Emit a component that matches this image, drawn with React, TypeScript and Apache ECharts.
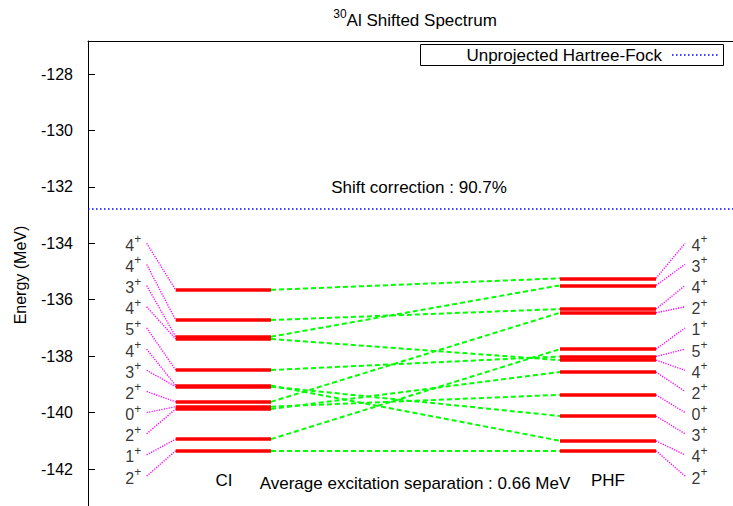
import React, { useEffect, useRef } from 'react';
import * as echarts from 'echarts';

// ---- data ----
const ciSpins = ['4', '4', '3', '4', '5', '4', '3', '2', '0', '2', '1', '2'];
const ciEnergies = [-135.65, -136.72, -137.31, -137.39, -138.49, -139.04, -139.08, -139.62, -139.79, -139.87, -140.94, -141.35];
const phfSpins = ['4', '3', '4', '2', '1', '5', '4', '2', '0', '3', '4', '2'];
const phfEnergies = [-135.24, -135.49, -136.33, -136.46, -137.75, -138.01, -138.14, -138.56, -139.37, -140.12, -141.0, -141.35];
const ciToPhf = [0, 2, 1, 6, 5, 10, 9, 3, 8, 7, 4, 11];
const hartreeFockEnergy = -132.79;
const shiftCorrection = '90.7%';
const averageSeparation = '0.66 MeV';
const yTicks = [-142, -140, -138, -136, -134, -132, -130, -128];

// ---- layout (axis units) ----
const X_MIN = 0;
const X_MAX = 10;
const Y_MIN = -143.31;
const Y_MAX = -126.83;
const LBL_L = 0.91;
const CI_X0 = 1.36;
const CI_X1 = 2.837;
const PHF_X0 = 7.318;
const PHF_X1 = 8.806;
const LBL_R = 9.256;
const SLOT_TOP = -134;
const SLOT_STEP = 0.75;

const FONT = '"Liberation Sans", Arial, Helvetica, sans-serif';
const FS = 16;
const FT = 17;

const slots = ciSpins.map((_, i) => SLOT_TOP - SLOT_STEP * i);

const rich = {
  n: { fontSize: FS, fontFamily: FONT, color: '#000', lineHeight: 20, verticalAlign: 'bottom' as const },
  s: { fontSize: 12, fontFamily: FONT, color: '#000', lineHeight: 12, verticalAlign: 'top' as const },
};
const titleRich = {
  n: { fontSize: FT, fontFamily: FONT, color: '#000', lineHeight: 21, verticalAlign: 'bottom' as const },
  s: { fontSize: 12, fontFamily: FONT, color: '#000', lineHeight: 12, verticalAlign: 'top' as const },
};

export default function App() {
  const ref = useRef<HTMLDivElement>(null);
  useEffect(() => {
    if (!ref.current) return;
    const chart = echarts.init(ref.current, undefined, { renderer: 'svg' });
    const levelLine = (x0: number, x1: number, energies: number[]) => ({
      type: 'lines',
      coordinateSystem: 'cartesian2d',
      silent: true,
      z: 4,
      lineStyle: { color: '#ff0000', width: 3.5, opacity: 1, cap: 'butt' },
      data: energies.map((e) => ({ coords: [[x0, e], [x1, e]] })),
    });
    const txt = (text: string, x: number, y: number, align = 'center') => ({
      type: 'text',
      x,
      y,
      z: 11,
      style: { text, fontSize: FT, fontFamily: FONT, fill: '#000', align, verticalAlign: 'middle' },
    });
    const option: any = {
      animation: false,
      textStyle: { fontFamily: FONT },
      grid: { left: 88, right: 0, top: 41, bottom: 0, containLabel: false, outerBoundsMode: 'none' },
      xAxis: {
        type: 'value',
        position: 'top',
        min: X_MIN,
        max: X_MAX,
        axisLine: { show: true, onZero: false, lineStyle: { color: '#000', width: 1 } },
        axisTick: { show: false },
        axisLabel: { show: false },
        splitLine: { show: false },
      },
      yAxis: {
        type: 'value',
        min: Y_MIN,
        max: Y_MAX,
        axisLine: { show: true, lineStyle: { color: '#000', width: 1 } },
        axisTick: { show: true, inside: true, length: 7, customValues: yTicks, lineStyle: { color: '#000' } },
        axisLabel: { show: true, customValues: yTicks, color: '#000', fontSize: FS, fontFamily: FONT, margin: 15 },
        splitLine: { show: false },
      },
      series: [
        {
          type: 'lines',
          name: 'Unprojected Hartree-Fock',
          coordinateSystem: 'cartesian2d',
          silent: true,
          lineStyle: { color: '#0000ff', width: 1.5, type: [1.5, 2.5], opacity: 1 },
          data: [{ coords: [[X_MIN, hartreeFockEnergy], [X_MAX, hartreeFockEnergy]] }],
        },
        {
          type: 'lines',
          coordinateSystem: 'cartesian2d',
          silent: true,
          z: 3,
          lineStyle: { color: '#ff00ff', width: 1.4, type: [1.2, 1.3], opacity: 1 },
          data: ciEnergies.map((e, i) => ({ coords: [[LBL_L, slots[i]], [CI_X0, e]] })),
        },
        {
          type: 'lines',
          coordinateSystem: 'cartesian2d',
          silent: true,
          z: 3,
          lineStyle: { color: '#ff00ff', width: 1.4, type: [1.2, 1.3], opacity: 1 },
          data: phfEnergies.map((e, i) => ({ coords: [[PHF_X1, e], [LBL_R, slots[i]]] })),
        },
        {
          type: 'lines',
          coordinateSystem: 'cartesian2d',
          silent: true,
          z: 3,
          lineStyle: { color: '#00ff00', width: 2, type: [5, 3], opacity: 1 },
          data: ciEnergies.map((e, i) => ({ coords: [[CI_X1, e], [PHF_X0, phfEnergies[ciToPhf[i]]]] })),
        },
        levelLine(CI_X0, CI_X1, ciEnergies),
        levelLine(PHF_X0, PHF_X1, phfEnergies),
        {
          type: 'scatter',
          silent: true,
          symbolSize: 1,
          itemStyle: { color: 'transparent' },
          data: slots.map((y) => [LBL_L, y]),
          label: {
            show: true,
            position: 'left',
            distance: 5,
            formatter: (p: any) => `{n|${ciSpins[p.dataIndex]}}{s|+}`,
            rich,
          },
        },
        {
          type: 'scatter',
          silent: true,
          symbolSize: 1,
          itemStyle: { color: 'transparent' },
          data: slots.map((y) => [LBL_R, y]),
          label: {
            show: true,
            position: 'right',
            distance: 6,
            formatter: (p: any) => `{n|${phfSpins[p.dataIndex]}}{s|+}`,
            rich,
          },
        },
      ],
      graphic: [
        {
          type: 'text',
          x: 415,
          y: 18,
          style: {
            text: '{s|30}{n|Al Shifted Spectrum}',
            rich: titleRich,
            align: 'center',
            verticalAlign: 'middle',
          },
        },
        {
          type: 'text',
          x: 20,
          y: 275,
          rotation: Math.PI / 2,
          style: { text: 'Energy (MeV)', fontSize: FS, fontFamily: FONT, fill: '#000', align: 'center', verticalAlign: 'middle' },
        },
        {
          type: 'rect',
          shape: { x: 420.5, y: 44.5, width: 303, height: 21 },
          style: { fill: '#fff', stroke: '#000', lineWidth: 1 },
          z: 10,
        },
        txt('Unprojected Hartree-Fock', 662, 55, 'right'),
        {
          type: 'line',
          z: 11,
          shape: { x1: 672, y1: 55, x2: 718, y2: 55 },
          style: { stroke: '#0000ff', lineWidth: 1.5, lineDash: [1.5, 2.5] },
        },
        txt(`Shift correction : ${shiftCorrection}`, 419, 187),
        txt('CI', 224, 480),
        txt('PHF', 608, 480),
        txt(`Average excitation separation : ${averageSeparation}`, 415, 483),
      ],
    };
    chart.setOption(option);
    return () => chart.dispose();
  }, []);
  return <div ref={ref} style={{ position: 'absolute', left: 0, top: 0, width: 733, height: 506 }} />;
}
